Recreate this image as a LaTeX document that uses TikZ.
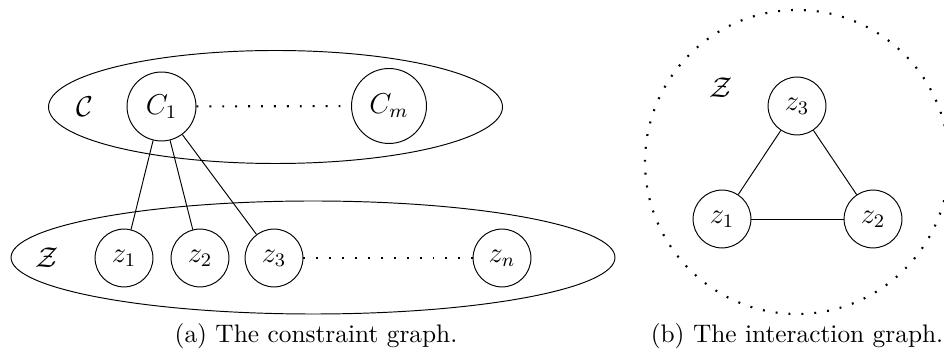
\documentclass[tikz,border=0pt]{standalone}
\usepackage{amsmath}
\usepackage{amssymb}
\usepackage{tikz}
\usetikzlibrary{positioning, calc}
\tikzset{
	varnode/.style ={circle, draw=black, minimum size=0.85cm, inner sep=1pt},
	connode/.style ={circle, draw=black, inner sep=4.4pt},
	setline/.style ={draw=black},
	dotline/.style ={line width=0.9pt, dash pattern=on 0.8pt off 4.6pt},
	% sub captions
	subcap/.style  ={anchor=center, font=\fontsize{10.6}{12}\selectfont},
}

\begin{document}
\begin{tikzpicture}[x=0.0147cm, y=-0.0147cm, font=\fontsize{11.5}{14}\selectfont]
	\useasboundingbox (0,0) rectangle (944,356);
	% (a) constraint graph
	\draw[setline] (275.5,107) ellipse [x radius=227, y radius=56.5];
	\draw[setline] (313,257.5) ellipse [x radius=302, y radius=56.5];
	\node (cset) at (85,107)  {$\mathcal{C}$};
	\node (zset) at (47,258)  {$\mathcal{Z}$};
	\node[connode] (c1) at (161.5,106.5) {$C_1$};
	\node[connode] (cm) at (389,106)     {$C_m$};
	\node[varnode] (z1) at (124,258) {$z_1$};
	\node[varnode] (z2) at (200,258) {$z_2$};
	\node[varnode] (z3) at (274,258) {$z_3$};
	\node[varnode] (zn) at (502,258) {$z_n$};
	\draw[dotline] (c1) -- (cm);
	\draw[dotline] (z3) -- (zn);
	\draw (c1) -- (z1);
	\draw (c1) -- (z2);
	\draw (c1) -- (z3);
	% (b) interaction graph
	\draw[dotline] (797,162) circle [radius=152];
	\node (zsetb) at (721,88) {$\mathcal{Z}$};
	\node[varnode] (iz3) at (797,106) {$z_3$};
	\node[varnode] (iz1) at (722,219) {$z_1$};
	\node[varnode] (iz2) at (873,219) {$z_2$};
	\draw (iz1) -- (iz3);
	\draw (iz3) -- (iz2);
	\draw (iz1) -- (iz2);
	% captions
	\node[subcap] (capa) at (316,336) {(a) The constraint graph.};
	\node[subcap] (capb) at (797,336) {(b) The interaction graph.};
\end{tikzpicture}
\end{document}
